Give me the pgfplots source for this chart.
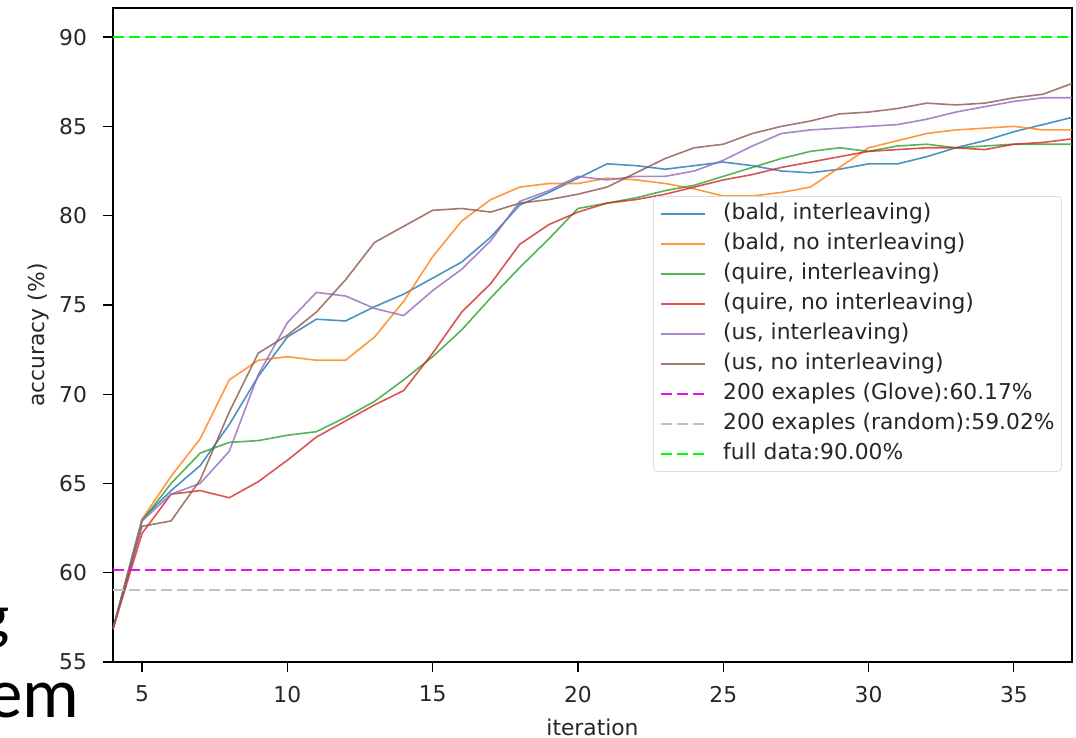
\documentclass[border=0pt]{standalone}
\usepackage{fontspec}
\setmainfont{DejaVu Sans}
\newfontfamily\slidefont{Carlito}
\usepackage{pgfplots}
\pgfplotsset{compat=1.18}
\usetikzlibrary{calc}
\definecolor{tblue}{HTML}{1F77B4}
\definecolor{torange}{HTML}{FF7F0E}
\definecolor{tgreen}{HTML}{2CA02C}
\definecolor{tred}{HTML}{D62728}
\definecolor{tpurple}{HTML}{9467BD}
\definecolor{tbrown}{HTML}{8C564B}
\definecolor{mag}{HTML}{EE00EE}
\definecolor{silv}{HTML}{C0C0C0}
\definecolor{lime}{HTML}{00FF00}
\definecolor{legframe}{HTML}{DDDDDD}
\begin{document}
\begin{tikzpicture}
\begin{axis}[
  name=ax,
  scale only axis,
  width=479.5pt, height=327pt,
  xmin=4, xmax=37, ymin=55, ymax=91.63,
  xtick={5,10,...,35}, ytick={55,60,...,90},
  tick align=outside, tick pos=left,
  major tick length=5pt,
  every tick/.style={black, line width=0.6pt},
  axis line style={black, line width=0.75pt},
  font=\fontsize{10.9}{13}\selectfont,
  /pgf/number format/assume math mode=true,
  ticklabel style={font=\fontsize{10.9}{13}\selectfont, text=black!85},
  xticklabel style={yshift=-3.5pt},
  yticklabel style={xshift=-4.5pt},
  xlabel={iteration}, ylabel={accuracy (\%)},
  every axis x label/.style={at={(axis description cs:0.5,-0.1131)}, anchor=base, text=black!85},
  every axis y label/.style={at={(axis description cs:-0.0709,0.5)}, rotate=90, anchor=base, text=black!85},
  legend style={at={(0.9896,0.7125)}, anchor=north east,
    draw=legframe, rounded corners=2pt, fill=white, fill opacity=0.8, text opacity=1,
    font=\fontsize{10.9}{13}\selectfont, text=black!85,
    inner sep=3.5pt, row sep=4.5pt, column sep=8.5pt,
    nodes={inner sep=0pt, text height=8pt, text depth=2.5pt}},
  legend cell align=left,
  legend image code/.code={\draw[#1] (0pt,0pt) -- (22pt,0pt);},
  every axis plot/.append style={line width=0.8pt, draw opacity=0.8},
]
\addplot[tblue] coordinates {(4,56.85) (5,63.0) (6,64.6) (7,66.0) (8,68.3) (9,71.0) (10,73.2) (11,74.2) (12,74.1) (13,74.9) (14,75.6) (15,76.5) (16,77.4) (17,78.8) (18,80.6) (19,81.3) (20,82.1) (21,82.9) (22,82.8) (23,82.6) (24,82.8) (25,83.0) (26,82.8) (27,82.5) (28,82.4) (29,82.6) (30,82.9) (31,82.9) (32,83.3) (33,83.8) (34,84.2) (35,84.7) (36,85.1) (37,85.5)};
\addlegendentry{(bald, interleaving)}
\addplot[torange] coordinates {(4,56.85) (5,63.0) (6,65.4) (7,67.5) (8,70.8) (9,71.9) (10,72.1) (11,71.9) (12,71.9) (13,73.2) (14,75.2) (15,77.7) (16,79.7) (17,80.9) (18,81.6) (19,81.8) (20,81.8) (21,82.1) (22,82.0) (23,81.8) (24,81.5) (25,81.1) (26,81.1) (27,81.3) (28,81.6) (29,82.7) (30,83.8) (31,84.2) (32,84.6) (33,84.8) (34,84.9) (35,85.0) (36,84.8) (37,84.8)};
\addlegendentry{(bald, no interleaving)}
\addplot[tgreen] coordinates {(4,56.85) (5,62.9) (6,65.0) (7,66.7) (8,67.3) (9,67.4) (10,67.7) (11,67.9) (12,68.7) (13,69.6) (14,70.8) (15,72.1) (16,73.6) (17,75.4) (18,77.1) (19,78.7) (20,80.4) (21,80.7) (22,81.0) (23,81.4) (24,81.7) (25,82.2) (26,82.7) (27,83.2) (28,83.6) (29,83.8) (30,83.6) (31,83.9) (32,84.0) (33,83.8) (34,83.9) (35,84.0) (36,84.0) (37,84.0)};
\addlegendentry{(quire, interleaving)}
\addplot[tred] coordinates {(4,56.85) (5,62.2) (6,64.4) (7,64.6) (8,64.2) (9,65.1) (10,66.3) (11,67.6) (12,68.5) (13,69.4) (14,70.2) (15,72.3) (16,74.6) (17,76.2) (18,78.4) (19,79.5) (20,80.2) (21,80.7) (22,80.9) (23,81.2) (24,81.6) (25,82.0) (26,82.3) (27,82.7) (28,83.0) (29,83.3) (30,83.6) (31,83.7) (32,83.8) (33,83.8) (34,83.7) (35,84.0) (36,84.1) (37,84.3)};
\addlegendentry{(quire, no interleaving)}
\addplot[tpurple] coordinates {(4,56.85) (5,62.9) (6,64.4) (7,65.0) (8,66.8) (9,71.1) (10,74.0) (11,75.7) (12,75.5) (13,74.8) (14,74.4) (15,75.8) (16,77.0) (17,78.6) (18,80.8) (19,81.4) (20,82.2) (21,82.0) (22,82.2) (23,82.2) (24,82.5) (25,83.1) (26,83.9) (27,84.6) (28,84.8) (29,84.9) (30,85.0) (31,85.1) (32,85.4) (33,85.8) (34,86.1) (35,86.4) (36,86.6) (37,86.6)};
\addlegendentry{(us, interleaving)}
\addplot[tbrown] coordinates {(4,56.85) (5,62.6) (6,62.9) (7,65.2) (8,69.0) (9,72.3) (10,73.3) (11,74.6) (12,76.4) (13,78.5) (14,79.4) (15,80.3) (16,80.4) (17,80.2) (18,80.7) (19,80.9) (20,81.2) (21,81.6) (22,82.4) (23,83.2) (24,83.8) (25,84.0) (26,84.6) (27,85.0) (28,85.3) (29,85.7) (30,85.8) (31,86.0) (32,86.3) (33,86.2) (34,86.3) (35,86.6) (36,86.8) (37,87.4)};
\addlegendentry{(us, no interleaving)}
\addplot[mag, draw opacity=0.95, line width=0.9pt, dash pattern=on 5.5pt off 2.5pt] coordinates {(4,60.17) (37,60.17)};
\addlegendentry{200 exaples (Glove):60.17\%}
\addplot[silv, draw opacity=1, dash pattern=on 5.5pt off 2.5pt] coordinates {(4,59.02) (37,59.02)};
\addlegendentry{200 exaples (random):59.02\%}
\addplot[lime, draw opacity=1, dash pattern=on 5.5pt off 2.5pt] coordinates {(4,90) (37,90)};
\addlegendentry{full data:90.00\%}
\end{axis}
\node[anchor=base east, inner sep=0pt, font=\slidefont\fontsize{35.5}{40}\selectfont] at ($(ax.south west)+(-16.5pt,-28pt)$) {em};
\node[anchor=base east, inner sep=0pt, font=\slidefont\fontsize{32}{38}\selectfont] at ($(ax.south west)+(-51.5pt,12pt)$) {g};
\pgfresetboundingbox
\useasboundingbox ($(ax.south west)+(-56.5pt,-38pt)$) rectangle ($(ax.north east)+(2pt,4pt)$);
\end{tikzpicture}
\end{document}
